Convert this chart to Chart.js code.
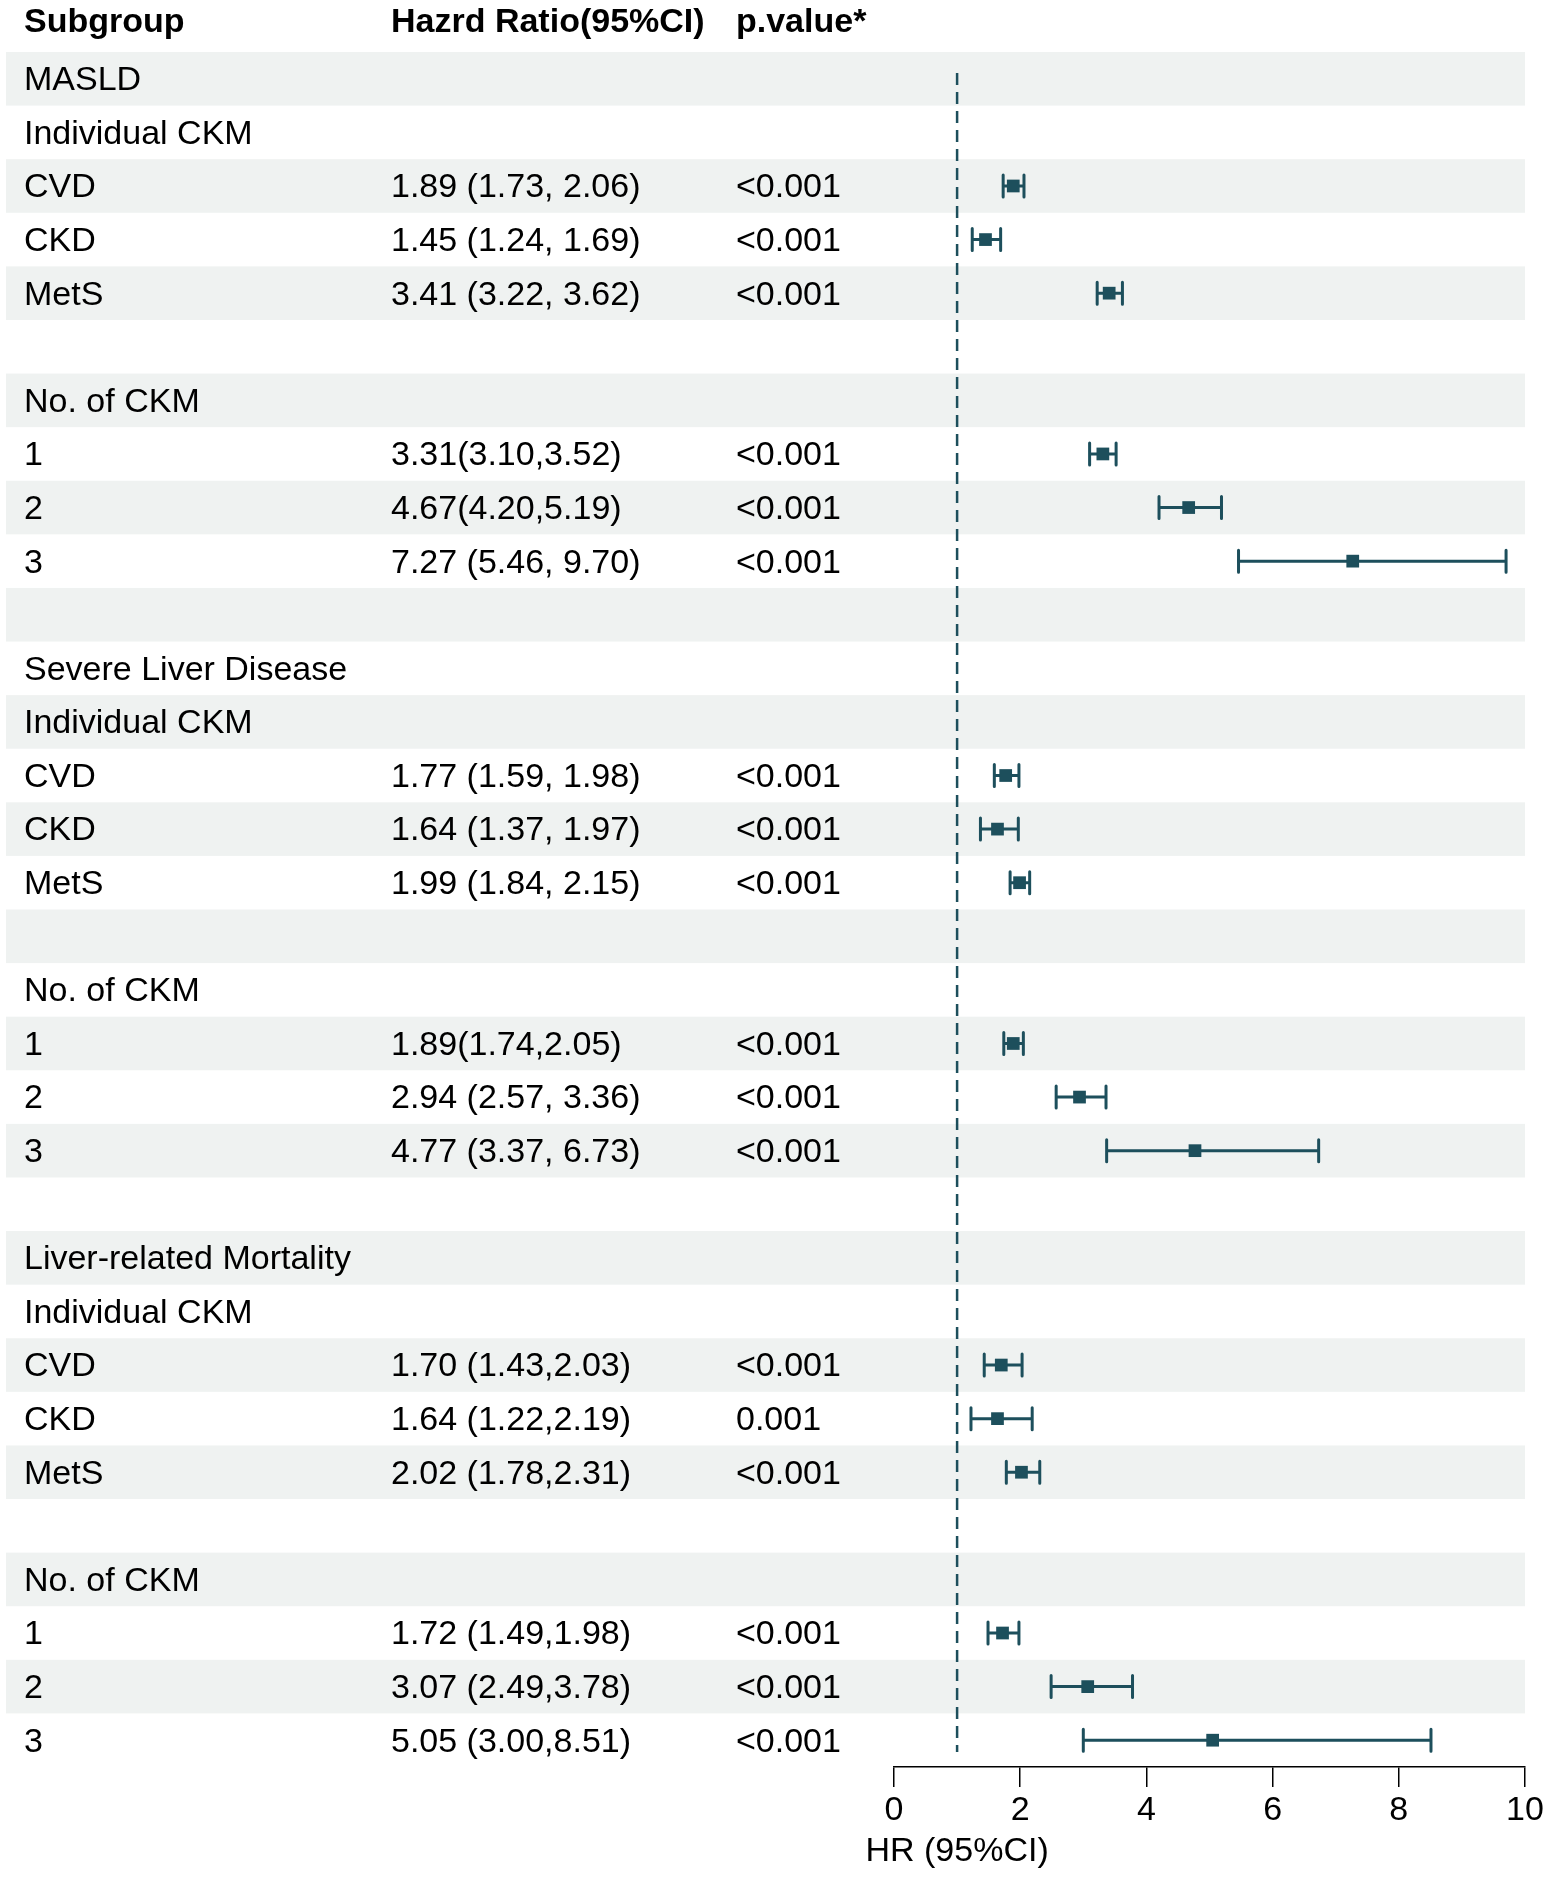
<!DOCTYPE html>
<html>
<head>
<meta charset="utf-8">
<script src="https://cdn.jsdelivr.net/npm/chart.js@4.4.1/dist/chart.umd.min.js"></script>
<style>
html,body{margin:0;padding:0;background:#fff;}
#wrap{width:1548px;height:1877px;position:relative;}
</style>
</head>
<body>
<div id="wrap"><canvas id="c" width="1548" height="1877"></canvas></div>
<script>
// ---- data ----
const subgroups = [
  "MASLD","Individual CKM","CVD","CKD","MetS","","No. of CKM","1","2","3","",
  "Severe Liver Disease","Individual CKM","CVD","CKD","MetS","","No. of CKM","1","2","3","",
  "Liver-related Mortality","Individual CKM","CVD","CKD","MetS","","No. of CKM","1","2","3"
];
const hrText = [
  "","","1.89 (1.73, 2.06)","1.45 (1.24, 1.69)","3.41 (3.22, 3.62)","","","3.31(3.10,3.52)","4.67(4.20,5.19)","7.27 (5.46, 9.70)","",
  "","","1.77 (1.59, 1.98)","1.64 (1.37, 1.97)","1.99 (1.84, 2.15)","","","1.89(1.74,2.05)","2.94 (2.57, 3.36)","4.77 (3.37, 6.73)","",
  "","","1.70 (1.43,2.03)","1.64 (1.22,2.19)","2.02 (1.78,2.31)","","","1.72 (1.49,1.98)","3.07 (2.49,3.78)","5.05 (3.00,8.51)"
];
const pText = [
  "","","<0.001","<0.001","<0.001","","","<0.001","<0.001","<0.001","",
  "","","<0.001","<0.001","<0.001","","","<0.001","<0.001","<0.001","",
  "","","<0.001","0.001","<0.001","","","<0.001","<0.001","<0.001"
];
const hr = [null,null,1.89,1.45,3.41,null,null,3.31,4.67,7.27,null,
            null,null,1.77,1.64,1.99,null,null,1.89,2.94,4.77,null,
            null,null,1.70,1.64,2.02,null,null,1.72,3.07,5.05];
const lower = [null,null,1.73,1.24,3.22,null,null,3.10,4.20,5.46,null,
               null,null,1.59,1.37,1.84,null,null,1.74,2.57,3.37,null,
               null,null,1.43,1.22,1.78,null,null,1.49,2.49,3.00];
const upper = [null,null,2.06,1.69,3.62,null,null,3.52,5.19,9.70,null,
               null,null,1.98,1.97,2.15,null,null,2.05,3.36,6.73,null,
               null,null,2.03,2.19,2.31,null,null,1.98,3.78,8.51];
const headers = ["Subgroup","Hazrd Ratio(95%CI)","p.value*"];
const xTicks = [0,2,4,6,8,10];
const refValue = 1;
const axisTitle = "HR (95%CI)";

// ---- styles ----
const COL = '#1d4f5c';
const BAND = '#eff2f1';
const FONT = '"Liberation Sans", Arial, Helvetica, sans-serif';

const points = [];
hr.forEach((v,i)=>{ if(v!==null) points.push({x:v,y:i,lo:lower[i],hi:upper[i]}); });

const tablePlugin = {
  id:'tablePlugin',
  beforeDraw(chart){
    const ctx = chart.ctx, y = chart.scales.y;
    ctx.save();
    ctx.fillStyle = '#fff';
    ctx.fillRect(0,0,chart.width,chart.height);
    for(let i=0;i<subgroups.length;i+=2){
      const t = y.getPixelForValue(i-0.5), b = y.getPixelForValue(i+0.5);
      ctx.fillStyle = BAND;
      ctx.fillRect(6, t, 1519, b-t);
    }
    ctx.restore();
  },
  afterDraw(chart){
    const ctx = chart.ctx, y = chart.scales.y, x = chart.scales.x;
    ctx.save();
    ctx.fillStyle = '#000';
    ctx.textBaseline = 'middle';
    ctx.textAlign = 'left';
    ctx.font = 'bold 34px ' + FONT;
    const colX = [24, 391, 736];
    headers.forEach((h,k)=>ctx.fillText(h, colX[k], 23));
    ctx.font = '34px ' + FONT;
    subgroups.forEach((s,i)=>{
      const py = y.getPixelForValue(i)+2;
      ctx.fillText(s, colX[0], py);
      ctx.fillText(hrText[i], colX[1], py);
      ctx.fillText(pText[i], colX[2], py);
    });
    ctx.textAlign = 'center';
    ctx.fillText(axisTitle, x.getPixelForValue(refValue), 1852);
    ctx.restore();
  },
  beforeDatasetsDraw(chart){
    const ctx = chart.ctx, y = chart.scales.y, x = chart.scales.x;
    ctx.save();
    ctx.strokeStyle = COL;
    ctx.lineWidth = 2.5;
    ctx.setLineDash([12,7]);
    const rx = x.getPixelForValue(refValue);
    ctx.beginPath();
    ctx.moveTo(rx, y.getPixelForValue(-0.11));
    ctx.lineTo(rx, y.getPixelForValue(31.22));
    ctx.stroke();
    ctx.setLineDash([]);
    ctx.lineWidth = 3;
    ctx.lineCap = 'round';
    points.forEach(p=>{
      const py = y.getPixelForValue(p.y);
      const x1 = x.getPixelForValue(p.lo), x2 = x.getPixelForValue(p.hi);
      ctx.beginPath();
      ctx.moveTo(x1,py); ctx.lineTo(x2,py);
      ctx.moveTo(x1,py-11); ctx.lineTo(x1,py+11);
      ctx.moveTo(x2,py-11); ctx.lineTo(x2,py+11);
      ctx.stroke();
    });
    ctx.restore();
  }
};

new Chart(document.getElementById('c'), {
  type:'scatter',
  data:{ datasets:[{
    data: points,
    pointStyle:'rect',
    pointRadius:9,
    pointHoverRadius:9,
    pointBackgroundColor: COL,
    pointBorderColor: COL,
    pointBorderWidth:0
  }]},
  options:{
    responsive:false,
    animation:false,
    devicePixelRatio:1,
    layout:{ padding:{ left:894, right:23, top:52, bottom:50 } },
    plugins:{ legend:{display:false}, tooltip:{enabled:false} },
    scales:{
      x:{
        type:'linear', min:0, max:10,
        afterBuildTicks(s){ s.ticks = xTicks.map(v=>({value:v})); },
        afterFit(s){ s.height = 60; },
        grid:{ display:true, drawOnChartArea:false, drawTicks:true, tickLength:20, color:'#000', lineWidth:1.5 },
        border:{ display:true, color:'#000', width:1.5 },
        ticks:{ color:'#000', font:{ family:FONT, size:34 }, padding:3, maxRotation:0 }
      },
      y:{
        type:'linear', min:-0.5, max:31.5, reverse:true, display:false
      }
    }
  },
  plugins:[tablePlugin]
});
</script>
</body>
</html>
